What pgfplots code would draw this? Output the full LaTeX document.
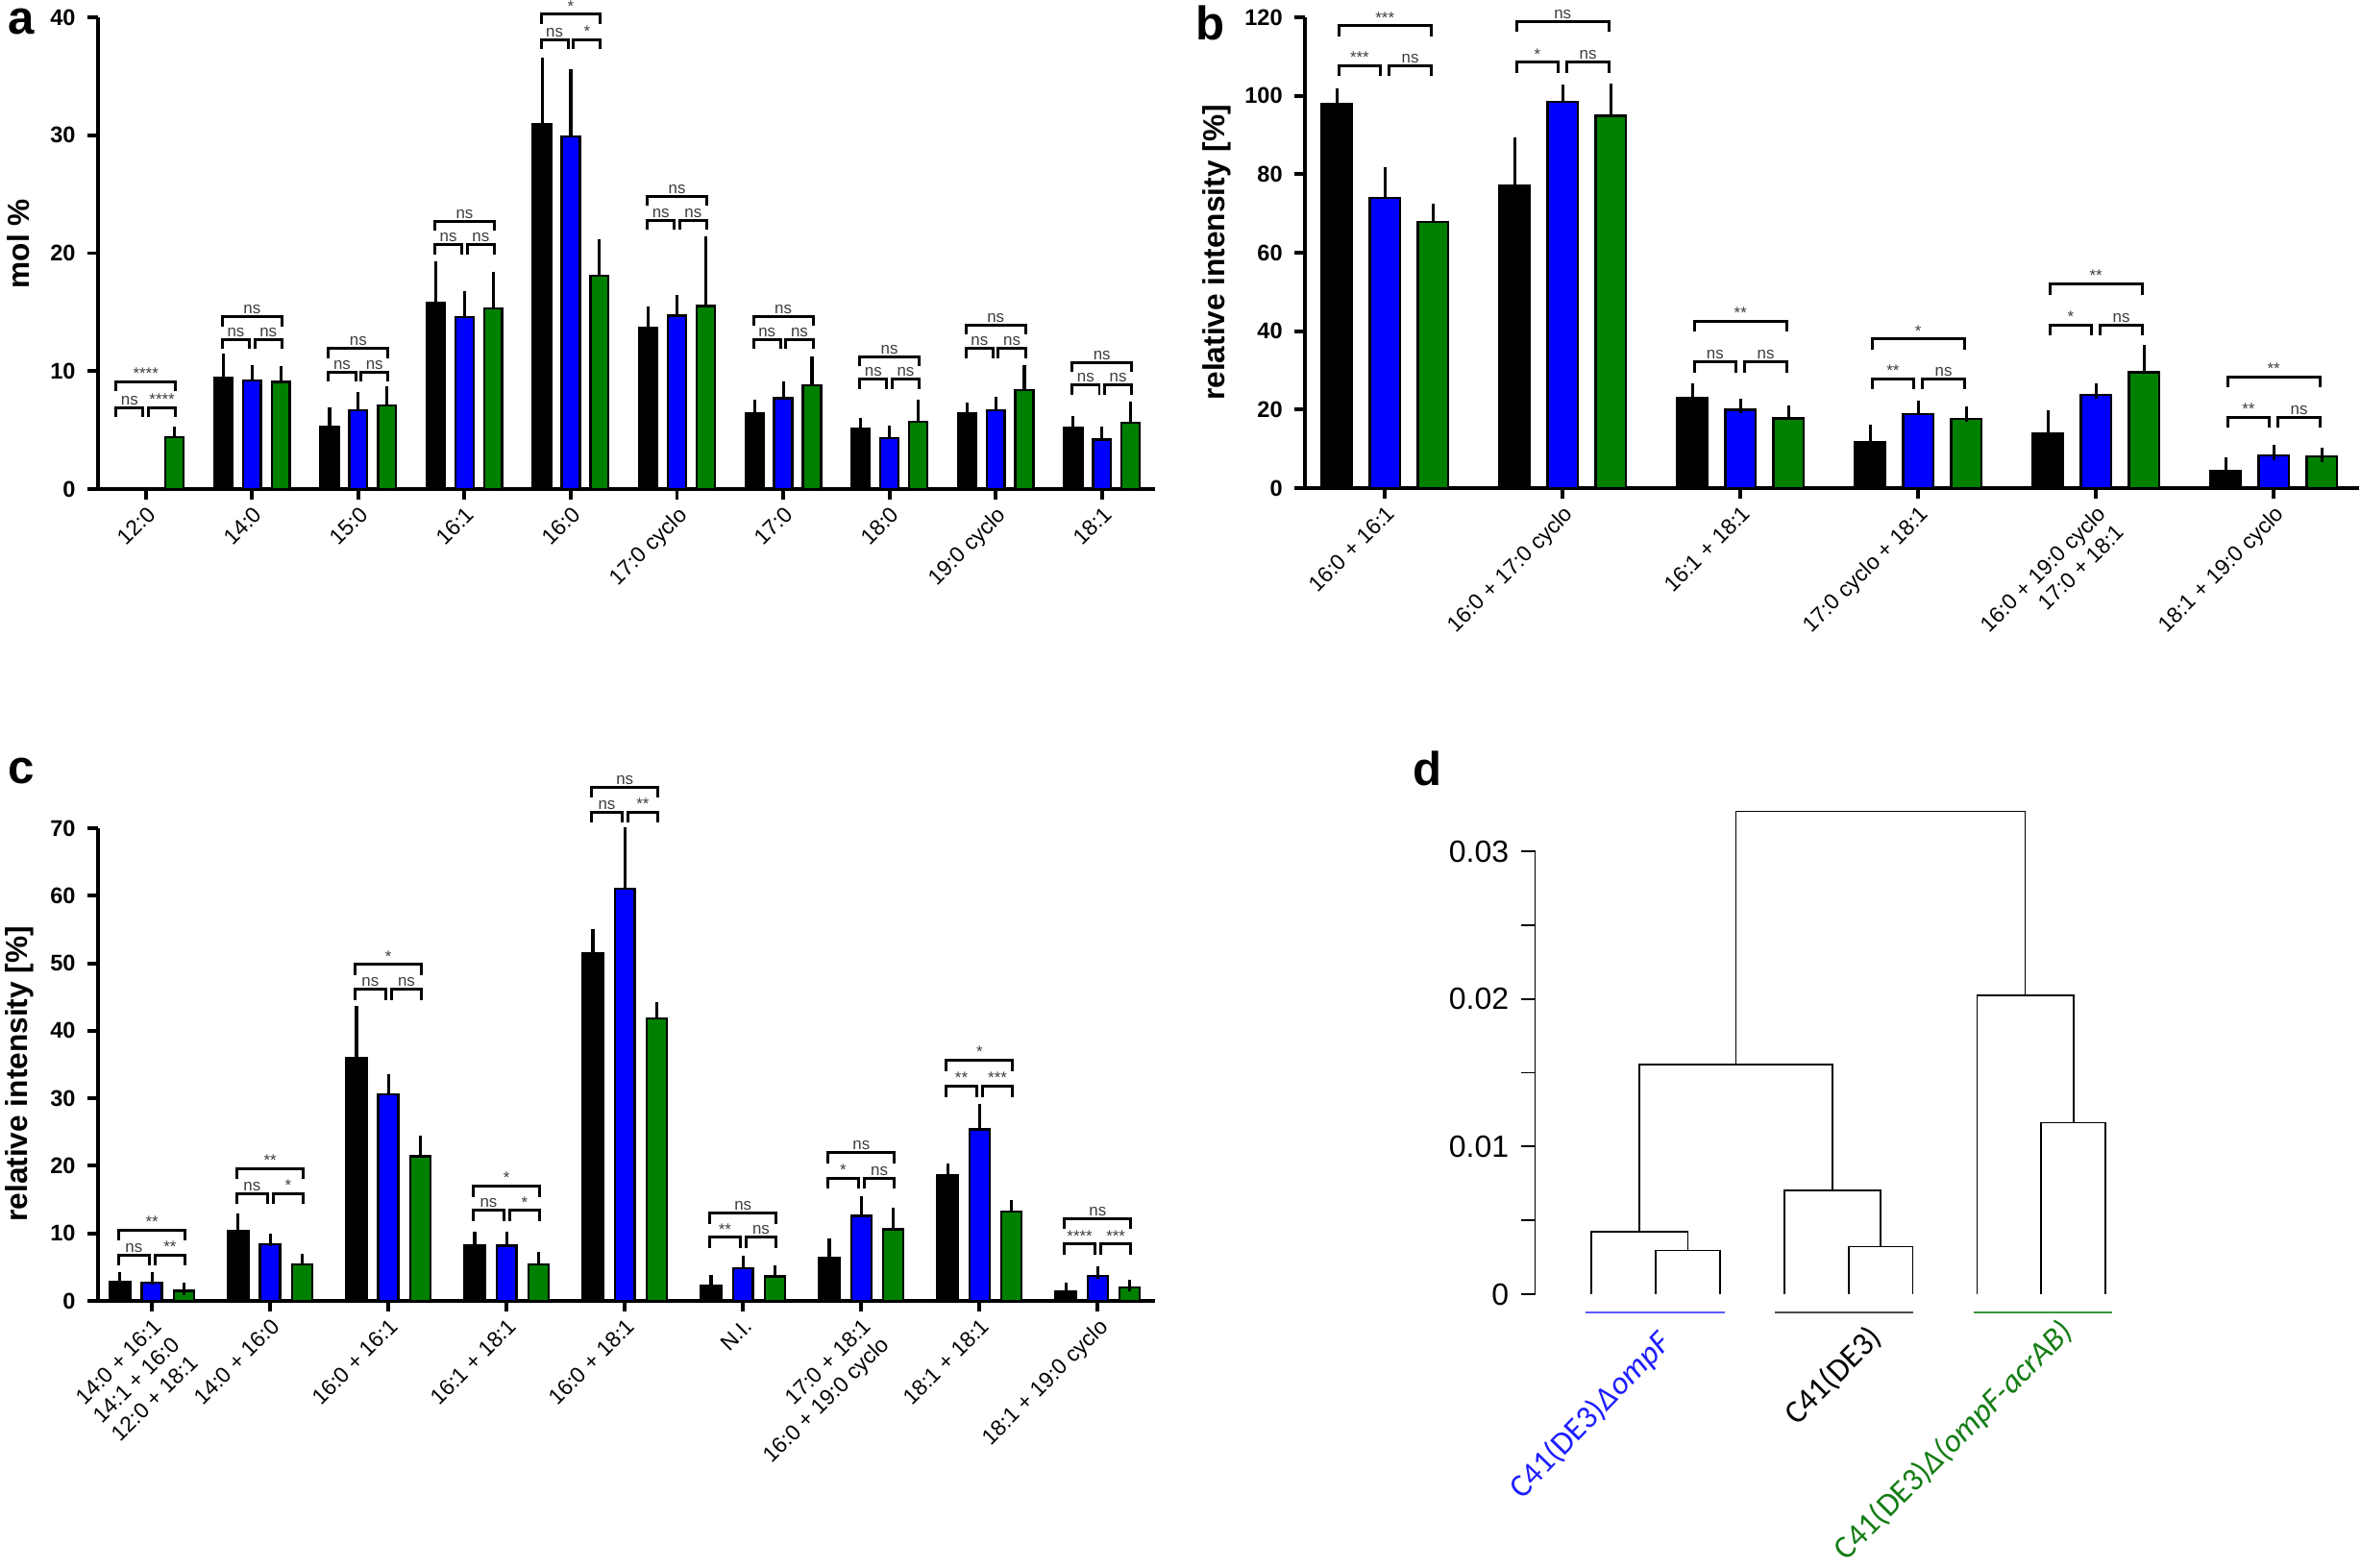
\documentclass[border=0pt]{standalone}
\usepackage{fontspec}
\setmainfont{Liberation Sans}
\newfontfamily\carlito{Carlito}
\usepackage{pgfplots}
\pgfplotsset{compat=1.18}
\definecolor{pblue}{RGB}{0,0,255}
\definecolor{pgreen}{RGB}{0,128,0}
\definecolor{nsgray}{RGB}{60,60,60}
\definecolor{dblue}{RGB}{30,30,255}
\definecolor{dgreen}{RGB}{20,125,20}
\definecolor{lblue}{RGB}{90,90,255}
\definecolor{lgreen}{RGB}{60,150,60}
\tikzset{brk/.style={line width=0.85pt, black},
 sigl/.style={font=\fontsize{4.8}{5}\selectfont, text=nsgray, inner sep=0.6pt, anchor=south},
 plab/.style={font=\bfseries\fontsize{14}{16}\selectfont}}
\def\bo{0.28}\def\bi{0.025}\def\leg{0.8}\def\capsize{1.8pt}
\newcommand\sig[6]{%
 \pgfmathsetmacro\xa{#1-\bo}%
 \pgfmathsetmacro\xb{#1-\bi}%
 \pgfmathsetmacro\xc{#1+\bi}%
 \pgfmathsetmacro\xd{#1+\bo}%
 \pgfmathsetmacro\ya{#2-\leg}%
 \pgfmathsetmacro\yb{#3-\leg}%
 \pgfmathsetmacro\xl{#1-(\bo+\bi)/2}%
 \pgfmathsetmacro\xr{#1+(\bo+\bi)/2}%
 \edef\tmp{%
 \noexpand\draw[brk] (axis cs:\xa,\ya) -- (axis cs:\xa,#2) -- (axis cs:\xb,#2) -- (axis cs:\xb,\ya);%
 \noexpand\draw[brk] (axis cs:\xc,\ya) -- (axis cs:\xc,#2) -- (axis cs:\xd,#2) -- (axis cs:\xd,\ya);%
 \noexpand\draw[brk] (axis cs:\xa,\yb) -- (axis cs:\xa,#3) -- (axis cs:\xd,#3) -- (axis cs:\xd,\yb);%
 \noexpand\node[sigl] at (axis cs:\xl,#2) {#4};%
 \noexpand\node[sigl] at (axis cs:\xr,#2) {#5};%
 \noexpand\node[sigl] at (axis cs:#1,#3) {#6};}%
 \tmp}
\pgfplotsset{
 barax/.style={scale only axis, anchor=south west, axis lines*=left,
  axis line style={line width=1.2pt, -}, tick style={line width=1.1pt, black},
  tick align=outside, major tick length=0.11cm, clip=false,
  /pgf/number format/assume math mode=true,
  yticklabel style={font=\bfseries\fontsize{6.7}{8}\selectfont},
  xticklabel style={font=\fontsize{6.5}{7.6}\selectfont, rotate=45, anchor=north east, align=right, inner sep=1pt},
  ylabel style={font=\bfseries\fontsize{9}{10}\selectfont, anchor=south}},
 errb/.style={error bars/.cd, y dir=plus, y explicit,
  error bar style={line width=0.9pt, black},
  error mark options={line width=0.9pt, black, mark size=\capsize}},
 bb/.style={ybar, bar width=0.17, bar shift=0, x filter/.expression={x-0.27}, fill=black, draw=black, line width=0.7pt, errb},
 bu/.style={ybar, bar width=0.17, bar shift=0, fill=pblue, draw=black, line width=0.7pt, errb},
 bg/.style={ybar, bar width=0.17, bar shift=0, x filter/.expression={x+0.27}, fill=pgreen, draw=black, line width=0.7pt, errb},
}
\begin{document}
\begin{tikzpicture}[x=1cm,y=1cm]
\path[use as bounding box] (0,0) rectangle (24.57,16.31);
% ---------------- panel a
\node[plab] at (0.22,16.08) {a};
\def\bo{0.28}\def\leg{0.8}\def\capsize{1.8pt}
\begin{axis}[barax, at={(1.02cm,11.22cm)}, width=11.00cm, height=4.91cm,
 xmin=-0.45, xmax=9.5, ymin=0, ymax=40, ytick={0,10,20,30,40},
 xtick={0,...,9}, xticklabels={12:0,14:0,15:0,16:1,16:0,17:0 cyclo,17:0,18:0,19:0 cyclo,18:1},
 ylabel={mol \%}, ylabel style={at={(axis description cs:-0.053,0.52)}}]
\addplot[bb] coordinates {(1,9.4) +- (0,1.6) (2,5.3) +- (0,1.1) (3,15.8) +- (0,3.0) (4,30.9) +- (0,5.2) (5,13.7) +- (0,1.3) (6,6.4) +- (0,0.7) (7,5.1) +- (0,0.4) (8,6.4) +- (0,0.4) (9,5.2) +- (0,0.5)};
\addplot[bu] coordinates {(1,9.2) +- (0,0.8) (2,6.7) +- (0,1.0) (3,14.6) +- (0,1.7) (4,29.9) +- (0,5.2) (5,14.7) +- (0,1.2) (6,7.7) +- (0,0.9) (7,4.3) +- (0,0.6) (8,6.7) +- (0,0.6) (9,4.2) +- (0,0.6)};
\addplot[bg] coordinates {(0,4.4) +- (0,0.4) (1,9.1) +- (0,0.8) (2,7.1) +- (0,1.1) (3,15.3) +- (0,2.6) (4,18.1) +- (0,2.6) (5,15.5) +- (0,5.4) (6,8.8) +- (0,1.9) (7,5.7) +- (0,1.4) (8,8.4) +- (0,1.6) (9,5.6) +- (0,1.3)};
\sig{0}{6.9}{9.1}{ns}{****}{****}
\sig{1}{12.7}{14.6}{ns}{ns}{ns}
\sig{2}{9.9}{11.9}{ns}{ns}{ns}
\sig{3}{20.7}{22.7}{ns}{ns}{ns}
\sig{4}{38.1}{40.25}{ns}{*}{*}
\sig{5}{22.8}{24.8}{ns}{ns}{ns}
\sig{6}{12.7}{14.65}{ns}{ns}{ns}
\sig{7}{9.3}{11.2}{ns}{ns}{ns}
\sig{8}{11.9}{13.9}{ns}{ns}{ns}
\sig{9}{8.8}{10.7}{ns}{ns}{ns}
\end{axis}
% ---------------- panel b
\node[plab] at (12.60,16.07) {b};
\def\bo{0.26}\def\leg{2.7}\def\capsize{2.2pt}
\begin{axis}[barax, at={(13.58cm,11.23cm)}, width=10.97cm, height=4.90cm,
 xmin=-0.45, xmax=5.48, ymin=0, ymax=120, ytick={0,20,...,120},
 xtick={0,...,5}, xticklabels={16:0 + 16:1,16:0 + 17:0 cyclo,16:1 + 18:1,17:0 cyclo + 18:1,{16:0 + 19:0 cyclo\\17:0 + 18:1},18:1 + 19:0 cyclo},
 ylabel={relative intensity [\%]}, ylabel style={at={(axis description cs:-0.059,0.5)}}]
\addplot[bb] coordinates {(0,97.9) +- (0,2.2) (1,77.2) +- (0,10.3) (2,23.0) +- (0,1.9) (3,11.6) +- (0,2.6) (4,13.8) +- (0,4.2) (5,4.4) +- (0,1.6)};
\addplot[bu] coordinates {(0,74.0) +- (0,5.8) (1,98.4) +- (0,2.6) (2,19.9) +- (0,1.1) (3,18.9) +- (0,1.6) (4,23.8) +- (0,0.9) (5,8.3) +- (0,0.8)};
\addplot[bg] coordinates {(0,67.8) +- (0,2.7) (1,94.9) +- (0,6.4) (2,17.7) +- (0,1.5) (3,17.6) +- (0,1.2) (4,29.5) +- (0,5.0) (5,8.1) +- (0,0.4)};
\sig{0}{107.7}{117.8}{***}{ns}{***}
\sig{1}{108.5}{118.9}{*}{ns}{ns}
\sig{2}{32.2}{42.6}{ns}{ns}{**}
\sig{3}{27.9}{38.0}{**}{ns}{*}
\sig{4}{41.6}{52.0}{*}{ns}{**}
\sig{5}{18.1}{28.4}{**}{ns}{**}
\end{axis}
% ---------------- panel c
\node[plab] at (0.22,8.28) {c};
\def\bo{0.28}\def\leg{1.6}\def\capsize{1.8pt}
\begin{axis}[barax, at={(1.02cm,2.77cm)}, width=11.00cm, height=4.92cm,
 xmin=-0.456, xmax=8.485, ymin=0, ymax=70, ytick={0,10,...,70},
 xtick={0,...,8}, xticklabels={{14:0 + 16:1\\14:1 + 16:0\\12:0 + 18:1},14:0 + 16:0,16:0 + 16:1,16:1 + 18:1,16:0 + 18:1,N.I.,{17:0 + 18:1\\16:0 + 19:0 cyclo},18:1 + 18:1,18:1 + 19:0 cyclo},
 ylabel={relative intensity [\%]}, ylabel style={at={(axis description cs:-0.05,0.48)}}]
\addplot[bb] coordinates {(0,2.8) +- (0,0.5) (1,10.3) +- (0,1.8) (2,36.0) +- (0,6.8) (3,8.2) +- (0,1.2) (4,51.4) +- (0,2.7) (5,2.3) +- (0,0.7) (6,6.4) +- (0,2.0) (7,18.6) +- (0,0.8) (8,1.4) +- (0,0.4)};
\addplot[bu] coordinates {(0,2.7) +- (0,0.6) (1,8.4) +- (0,0.6) (2,30.6) +- (0,2.1) (3,8.2) +- (0,1.2) (4,61.0) +- (0,8.2) (5,4.8) +- (0,1.0) (6,12.6) +- (0,2.0) (7,25.4) +- (0,2.8) (8,3.7) +- (0,0.5)};
\addplot[bg] coordinates {(0,1.5) +- (0,0.3) (1,5.4) +- (0,0.7) (2,21.4) +- (0,2.2) (3,5.4) +- (0,1.0) (4,41.8) +- (0,1.6) (5,3.6) +- (0,0.8) (6,10.6) +- (0,2.3) (7,13.2) +- (0,0.8) (8,2.0) +- (0,0.3)};
\sig{0}{6.8}{10.5}{ns}{**}{**}
\sig{1}{15.9}{19.6}{ns}{*}{**}
\sig{2}{46.2}{49.8}{ns}{ns}{*}
\sig{3}{13.4}{17.0}{ns}{*}{*}
\sig{4}{72.4}{76.1}{ns}{**}{ns}
\sig{5}{9.4}{13.0}{**}{ns}{ns}
\sig{6}{18.2}{22.0}{*}{ns}{ns}
\sig{7}{31.8}{35.6}{**}{***}{*}
\sig{8}{8.4}{12.2}{****}{***}{ns}
\end{axis}
% ---------------- panel d
\node[plab] at (14.86,8.31) {d};
\begin{axis}[scale only axis, anchor=south west, at={(15.975cm,2.84cm)}, width=6.606cm, height=4.61cm,
 xmin=0.125, xmax=10, ymin=0, ymax=0.03, axis y line=left, axis x line=none,
 axis line style={line width=0.5pt, -}, tick style={line width=0.5pt, black},
 scaled y ticks=false,
 ytick={0,0.01,0.02,0.03}, yticklabels={0,0.01,0.02,0.03}, minor ytick={0.005,0.015,0.025},
 tick align=outside, major tick length=0.15cm, minor tick length=0.15cm, clip=false,
 /pgf/number format/assume math mode=true,
 yticklabel style={font=\fontsize{9.1}{10}\selectfont}]
\pgfplotsset{dline/.style={black, line width=0.5pt}}
\addplot[dline] coordinates {(2,0) (2,0.00296) (3,0.00296) (3,0)};
\addplot[dline] coordinates {(1,0) (1,0.00424) (2.5,0.00424) (2.5,0.00296)};
\addplot[dline] coordinates {(5,0) (5,0.00322) (6,0.00322) (6,0)};
\addplot[dline] coordinates {(4,0) (4,0.00702) (5.5,0.00702) (5.5,0.00322)};
\addplot[dline] coordinates {(1.75,0.00424) (1.75,0.01557) (4.75,0.01557) (4.75,0.00702)};
\addplot[dline] coordinates {(8,0) (8,0.01162) (9,0.01162) (9,0)};
\addplot[dline] coordinates {(7,0) (7,0.02024) (8.5,0.02024) (8.5,0.01162)};
\addplot[dline] coordinates {(3.25,0.01557) (3.25,0.0327) (7.75,0.0327) (7.75,0.02024)};
\addplot[lblue, line width=0.6pt] coordinates {(0.91,-0.00124) (3.08,-0.00124)};
\addplot[black!70, line width=0.6pt] coordinates {(3.86,-0.00124) (6.0,-0.00124)};
\addplot[lgreen, line width=0.6pt] coordinates {(6.95,-0.00124) (9.1,-0.00124)};
\node[rotate=46, anchor=north east, inner sep=0pt, text=dblue, font=\carlito\fontsize{9.6}{11}\selectfont] at (axis cs:2.0,-0.0022) {C41(DE3)\textit{Δ\kern0.5pt ompF}};
\node[rotate=45, anchor=north east, inner sep=0pt, text=black, font=\carlito\fontsize{9.6}{11}\selectfont] at (axis cs:5.28,-0.0019) {C41(DE3)};
\node[rotate=45, anchor=north east, inner sep=0pt, text=dgreen, font=\carlito\fontsize{9.6}{11}\selectfont] at (axis cs:8.25,-0.0015) {C41(DE3)\textit{Δ(ompF-acrAB)}};
\end{axis}
\end{tikzpicture}
\end{document}
